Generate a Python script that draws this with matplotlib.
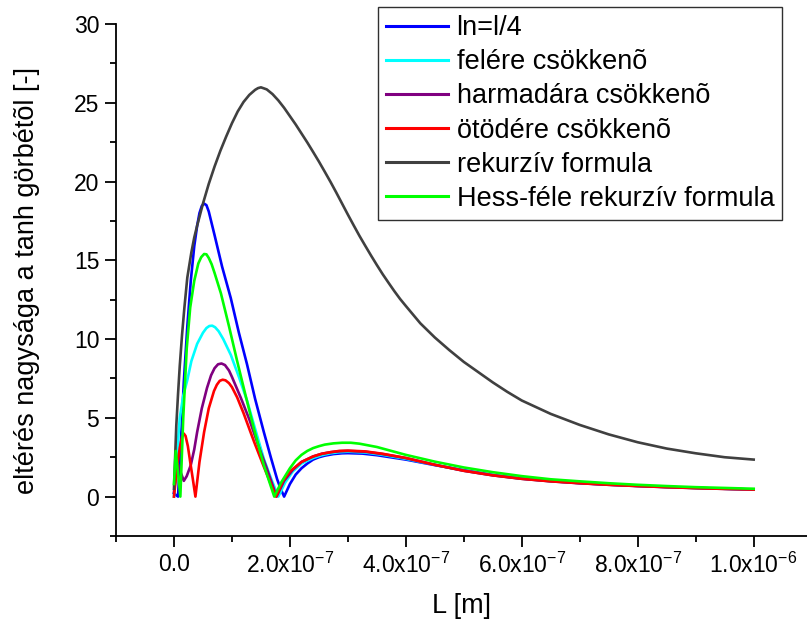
import numpy as np
import matplotlib
matplotlib.use("Agg")
import matplotlib.pyplot as plt
from matplotlib.ticker import MultipleLocator, FuncFormatter

plt.rcParams['font.family'] = ['Liberation Sans', 'DejaVu Sans']
plt.rcParams['mathtext.fontset'] = 'custom'
plt.rcParams['mathtext.rm'] = 'Liberation Sans'
plt.rcParams['axes.unicode_minus'] = False

# x values are in units of 1e-7 m
X_UNIT = 1e-7

x_ln4 = [0.0, 0.07, 0.12, 0.17, 0.23, 0.29, 0.35, 0.40, 0.44, 0.48, 0.52, 0.56, 0.60, 0.64,
         0.70, 0.83, 0.98, 1.12, 1.26, 1.40, 1.55, 1.67, 1.78, 1.84, 1.90, 2.0, 2.1, 2.2,
         2.3, 2.4, 2.5, 2.6, 2.75, 2.9, 3.0, 3.25, 3.5, 4.0, 4.5, 5.0, 5.5, 6.0, 6.5, 7.0,
         7.5, 8.0, 8.5, 9.0, 9.5, 10.0]
y_ln4 = [0.2, 0.0, 3.5, 7.3, 10.8, 13.7, 15.9, 17.2, 18.0, 18.45, 18.6, 18.5, 18.1, 17.5,
         16.6, 14.6, 12.6, 10.4, 8.4, 6.2, 4.1, 2.5, 1.1, 0.5, 0.0, 0.8, 1.4, 1.8,
         2.1, 2.35, 2.5, 2.6, 2.7, 2.75, 2.76, 2.73, 2.63, 2.35, 2.0, 1.68, 1.38, 1.15, 0.99, 0.86,
         0.76, 0.68, 0.61, 0.55, 0.5, 0.45]

x_half = [0.0, 0.03, 0.06, 0.10, 0.16, 0.23, 0.30, 0.40, 0.50, 0.56, 0.61, 0.66, 0.71, 0.77,
          0.85, 0.98, 1.12, 1.26, 1.40, 1.55, 1.68, 1.80, 1.92, 2.05, 2.2, 2.4, 2.55, 2.7,
          2.85, 3.0, 3.3, 3.6, 4.0, 4.5, 5.0, 5.5, 6.0, 6.5, 7.0, 7.5, 8.0, 8.5, 9.0, 9.5, 10.0]
y_half = [0.0, 1.8, 3.1, 5.0, 6.4, 7.4, 8.6, 9.7, 10.4, 10.7, 10.83, 10.85, 10.75, 10.5,
          10.0, 9.0, 7.6, 6.1, 4.3, 2.4, 1.1, 0.0, 0.9, 1.6, 2.1, 2.45, 2.63, 2.75,
          2.82, 2.85, 2.8, 2.65, 2.4, 2.02, 1.65, 1.36, 1.14, 0.98, 0.86, 0.76, 0.68, 0.61, 0.55, 0.5, 0.45]

x_third = [0.0, 0.04, 0.08, 0.12, 0.17, 0.22, 0.29, 0.35, 0.40, 0.48, 0.57, 0.64, 0.70, 0.76,
           0.82, 0.88, 0.95, 1.0, 1.15, 1.3, 1.45, 1.6, 1.77, 1.9, 2.05, 2.2, 2.4, 2.55, 2.7,
           2.85, 3.0, 3.3, 3.6, 4.0, 4.5, 5.0, 5.5, 6.0, 6.5, 7.0, 7.5, 8.0, 8.5, 9.0, 9.5, 10.0]
y_third = [0.3, 1.5, 2.0, 1.5, 1.0, 1.3, 2.0, 3.0, 4.1, 5.6, 6.9, 7.7, 8.15, 8.4,
           8.45, 8.35, 8.0, 7.6, 6.3, 4.9, 3.3, 1.8, 0.0, 1.0, 1.7, 2.2, 2.55, 2.72, 2.82,
           2.88, 2.9, 2.85, 2.7, 2.45, 2.02, 1.64, 1.35, 1.13, 0.97, 0.85, 0.75, 0.67, 0.6, 0.54, 0.49, 0.45]

x_fifth = [0.0, 0.05, 0.10, 0.14, 0.17, 0.20, 0.24, 0.28, 0.33, 0.37, 0.44, 0.52, 0.60, 0.69,
           0.74, 0.79, 0.84, 0.89, 0.95, 1.0, 1.09, 1.2, 1.38, 1.55, 1.76, 1.88, 2.0, 2.2,
           2.4, 2.55, 2.7, 2.85, 3.0, 3.3, 3.6, 4.0, 4.5, 5.0, 5.5, 6.0, 6.5, 7.0, 7.5, 8.0,
           8.5, 9.0, 9.5, 10.0]
y_fifth = [0.0, 1.8, 3.1, 3.8, 4.0, 3.85, 3.2, 2.2, 1.0, 0.0, 2.2, 4.1, 5.6, 6.7,
           7.1, 7.35, 7.42, 7.38, 7.2, 6.95, 6.3, 5.3, 3.5, 1.9, 0.0, 1.0, 1.6, 2.2,
           2.55, 2.72, 2.82, 2.9, 2.92, 2.87, 2.72, 2.45, 2.02, 1.64, 1.35, 1.13, 0.97, 0.85, 0.75, 0.67,
           0.6, 0.54, 0.49, 0.45]

x_rec = [0.0, 0.02, 0.04, 0.07, 0.10, 0.14, 0.18, 0.23, 0.30, 0.35, 0.40, 0.50, 0.60, 0.70,
         0.80, 0.90, 1.0, 1.1, 1.2, 1.3, 1.4, 1.45, 1.5, 1.6, 1.7, 1.8, 1.9, 2.0, 2.1, 2.2,
         2.3, 2.4, 2.5, 2.6, 2.7, 2.8, 2.9, 3.0, 3.1, 3.2, 3.3, 3.4, 3.5, 3.6, 3.7, 3.8,
         3.9, 4.0, 4.25, 4.5, 4.75, 5.0, 5.25, 5.5, 5.75, 6.0, 6.5, 7.0, 7.5, 8.0, 8.5, 9.0,
         9.5, 10.0]
y_rec = [0.5, 2.5, 4.5, 6.5, 8.3, 10.3, 12.0, 13.9, 15.5, 16.45, 17.2, 18.6, 19.85, 20.95,
         21.95, 22.85, 23.7, 24.45, 25.05, 25.5, 25.82, 25.93, 25.98, 25.85, 25.55, 25.15, 24.68, 24.15, 23.62, 23.05,
         22.48, 21.88, 21.27, 20.63, 19.98, 19.3, 18.6, 17.9, 17.22, 16.55, 15.92, 15.3, 14.7, 14.12, 13.58, 13.05,
         12.55, 12.1, 11.0, 10.1, 9.3, 8.55, 7.9, 7.25, 6.65, 6.1, 5.25, 4.55, 3.95, 3.45, 3.05, 2.75,
         2.5, 2.35]

x_hess = [0.0, 0.03, 0.07, 0.11, 0.16, 0.22, 0.28, 0.35, 0.42, 0.47, 0.52, 0.56, 0.60, 0.65,
          0.70, 0.81, 0.95, 1.09, 1.23, 1.38, 1.55, 1.73, 1.85, 2.0, 2.1, 2.2, 2.3, 2.4, 2.5,
          2.6, 2.75, 2.9, 3.05, 3.2, 3.5, 4.0, 4.5, 5.0, 5.5, 6.0, 6.5, 7.0, 7.5, 8.0, 8.5,
          9.0, 9.5, 10.0]
y_hess = [0.8, 2.9, 1.5, 0.0, 5.0, 9.4, 12.0, 13.7, 14.8, 15.2, 15.4, 15.38, 15.15, 14.75,
          14.2, 12.9, 10.8, 8.6, 6.5, 4.3, 2.0, 0.0, 0.9, 1.8, 2.3, 2.65, 2.9, 3.08, 3.2,
          3.3, 3.38, 3.42, 3.42, 3.36, 3.15, 2.65, 2.22, 1.85, 1.55, 1.3, 1.1, 0.97, 0.85, 0.75, 0.67,
          0.6, 0.55, 0.5]

series = [
    (x_ln4, y_ln4, 'ln=l/4', '#0000ff'),
    (x_half, y_half, 'felére csökkenõ', '#00ffff'),
    (x_third, y_third, 'harmadára csökkenõ', '#800080'),
    (x_fifth, y_fifth, 'ötödére csökkenõ', '#ff0000'),
    (x_rec, y_rec, 'rekurzív formula', '#404040'),
    (x_hess, y_hess, 'Hess-féle rekurzív formula', '#00ff00'),
]


def xfmt(v, pos):
    if abs(v) < 1e-12:
        return '0.0'
    exp = int(np.floor(np.log10(abs(v))))
    mant = v / 10 ** exp
    return r'$\mathregular{%.1fx10^{%d}}$' % (mant, exp)


fig = plt.figure(figsize=(8.07, 6.27), dpi=100)
ax = fig.add_axes([116 / 807, 1 - 536 / 627, 1 - 116 / 807, (536 - 24) / 627])

for xs, ys, label, color in series:
    ax.plot(np.array(xs) * X_UNIT, ys, color=color, lw=1.9, label=label,
            solid_joinstyle='round')

ax.set_xlim(-1e-7, 1.092e-6)
ax.set_ylim(-2.5, 30)
ax.xaxis.set_major_locator(MultipleLocator(2e-7))
ax.xaxis.set_minor_locator(MultipleLocator(1e-7))
ax.xaxis.set_major_formatter(FuncFormatter(xfmt))
ax.yaxis.set_major_locator(MultipleLocator(5))
ax.yaxis.set_minor_locator(MultipleLocator(2.5))

for s in ['top', 'right']:
    ax.spines[s].set_visible(False)
for s in ['left', 'bottom']:
    ax.spines[s].set_linewidth(1.3)

ax.tick_params(which='major', direction='out', length=8, width=1.3, labelsize=16.5, pad=4)
ax.tick_params(which='minor', direction='out', length=4, width=1.3)

ax.set_xlabel('L [m]', fontsize=19.5, labelpad=11)
ax.set_ylabel('eltérés nagysága a tanh görbétõl [-]', fontsize=19.5, labelpad=24)

leg = ax.legend(loc='upper left', bbox_to_anchor=(378 / 807, 1 - 7 / 627),
                bbox_transform=fig.transFigure, borderaxespad=0, fontsize=19.5,
                handlelength=2.3, handletextpad=0.3, labelspacing=0.3,
                borderpad=0.3, fancybox=False, framealpha=1, edgecolor='#303030')
leg.get_frame().set_linewidth(1.0)
for line in leg.get_lines():
    line.set_linewidth(2.2)

fig.savefig('out.png', dpi=100)
